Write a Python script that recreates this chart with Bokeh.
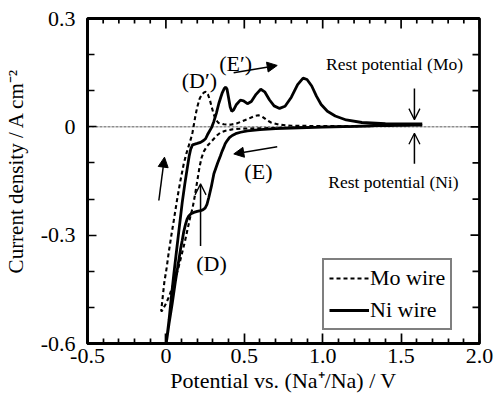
import math
from bokeh.plotting import figure
from bokeh.models import (Range1d, FixedTicker, Span, Arrow, NormalHead,
                          OpenHead, Label, Legend, LegendItem)
from bokeh.embed import file_html
from bokeh.resources import INLINE

FONT = "Liberation Serif"

# ---------------- data ----------------
# Ni wire: cathodic scan from rest potential, then anodic scan back
ni_v = [1.635, 1.40, 1.20, 1.00, 0.85, 0.70, 0.60, 0.52, 0.476, 0.445, 0.423, 0.405,
        0.391, 0.378, 0.369, 0.358, 0.348, 0.33, 0.306, 0.29, 0.274, 0.262, 0.25, 0.235,
        0.221, 0.20, 0.178, 0.16, 0.146, 0.135, 0.125, 0.114, 0.104, 0.093, 0.082, 0.06,
        0.04, 0.02, 0.002,
        0.02, 0.035, 0.05, 0.066, 0.085, 0.104, 0.12, 0.136, 0.148, 0.158, 0.17, 0.20,
        0.221, 0.24, 0.253, 0.265, 0.274, 0.29, 0.306, 0.322, 0.337, 0.35, 0.36, 0.372,
        0.382, 0.39, 0.40, 0.41, 0.42, 0.432, 0.45, 0.475, 0.495, 0.52, 0.545, 0.575,
        0.605, 0.63, 0.66, 0.69, 0.725, 0.76, 0.80, 0.84, 0.875, 0.90, 0.93, 0.96, 0.99,
        1.03, 1.08, 1.15, 1.25, 1.40, 1.635]
ni_i = [0.008, 0.004, 0.001, -0.001, -0.003, -0.005, -0.008, -0.011, -0.015, -0.019,
        -0.024, -0.030, -0.038, -0.047, -0.057, -0.068, -0.08, -0.10, -0.13, -0.165,
        -0.195, -0.215, -0.225, -0.23, -0.232, -0.234, -0.237, -0.241, -0.247, -0.256,
        -0.27, -0.29, -0.315, -0.34, -0.37, -0.43, -0.49, -0.545, -0.60,
        -0.535, -0.47, -0.41, -0.35, -0.28, -0.21, -0.16, -0.115, -0.082, -0.062, -0.05,
        -0.046, -0.043, -0.038, -0.033, -0.022, -0.015, -0.003, 0.015, 0.038, 0.064,
        0.082, 0.095, 0.106, 0.11, 0.104, 0.08, 0.055, 0.043, 0.047, 0.062, 0.074, 0.072,
        0.064, 0.07, 0.09, 0.104, 0.097, 0.075, 0.058, 0.051, 0.057, 0.082, 0.117, 0.135,
        0.131, 0.113, 0.085, 0.062, 0.043, 0.030, 0.019, 0.012, 0.009, 0.008]

# Mo wire: cathodic scan, then anodic scan back
mo_v = [1.635, 1.30, 1.00, 0.80, 0.60, 0.48, 0.423, 0.38, 0.348, 0.325, 0.306, 0.285,
        0.263, 0.242, 0.228, 0.215, 0.20, 0.185, 0.17, 0.155, 0.14, 0.12, 0.10, 0.08,
        0.06, 0.04, 0.02, 0.0, -0.025,
        -0.03, -0.02, -0.01, 0.005, 0.019, 0.035, 0.05, 0.072, 0.09, 0.114, 0.13, 0.146,
        0.16, 0.17, 0.178, 0.188, 0.20, 0.215, 0.23, 0.245, 0.256, 0.268, 0.28, 0.292,
        0.305, 0.318, 0.335, 0.37, 0.41, 0.45, 0.49, 0.53, 0.565, 0.59, 0.615, 0.64,
        0.67, 0.72, 0.80, 1.00, 1.30, 1.635]
mo_i = [0.004, 0.002, 0.0, -0.002, -0.004, -0.005, -0.007, -0.011, -0.016, -0.024,
        -0.033, -0.043, -0.053, -0.068, -0.085, -0.11, -0.15, -0.19, -0.225, -0.25,
        -0.28, -0.32, -0.355, -0.39, -0.42, -0.445, -0.47, -0.49, -0.51,
        -0.51, -0.47, -0.43, -0.39, -0.345, -0.30, -0.26, -0.20, -0.155, -0.102, -0.075,
        -0.052, -0.032, -0.015, 0.005, 0.03, 0.055, 0.078, 0.09, 0.096, 0.097, 0.09,
        0.075, 0.055, 0.035, 0.02, 0.011, 0.007, 0.006, 0.009, 0.016, 0.023, 0.03, 0.032,
        0.028, 0.02, 0.012, 0.006, 0.003, 0.002, 0.002, 0.004]

x_ticks = [-0.5, 0.0, 0.5, 1.0, 1.5, 2.0]
x_tick_labels = ["-0.5", "0", "0.5", "1.0", "1.5", "2.0"]
x_minor = [-0.4, -0.3, -0.2, -0.1, 0.1, 0.2, 0.3, 0.4, 0.6, 0.7, 0.8, 0.9,
           1.1, 1.2, 1.3, 1.4, 1.6, 1.7, 1.8, 1.9]
y_ticks = [-0.6, -0.3, 0.0, 0.3]
y_tick_labels = ["-0.6", "-0.3", "0", "0.3"]
y_minor = [-0.5, -0.4, -0.2, -0.1, 0.1, 0.2]

X_MIN, X_MAX = -0.5, 2.0
Y_MIN, Y_MAX = -0.6, 0.3

x_title = "Potential vs. (Na\u207a/Na) / V"
# leading no-break spaces nudge the centred title upwards as in the reference
y_title = "\u00a0\u00a0\u00a0\u00a0Current density / A cm\u207b\u00b2"

# annotations: text labels and arrows (data units)
lab_text = ["(D\u2032)", "(E\u2032)", "(E)", "(D)"]
lab_x = [0.214, 0.445, 0.59, 0.291]
lab_y = [0.128, 0.176, -0.124, -0.379]
rest_text = ["Rest potential (Mo)", "Rest potential (Ni)"]
rest_x = [1.458, 1.451]
rest_y = [0.1745, -0.152]
arr_x0 = [-0.045, 0.221, 0.71, 0.432, 1.585, 1.585]
arr_y0 = [-0.204, -0.33, -0.0554, 0.150, 0.106, -0.102]
arr_x1 = [-0.009, 0.221, 0.433, 0.71, 1.585, 1.585]
arr_y1 = [-0.084, -0.158, -0.075, 0.170, 0.020, -0.018]
arr_filled = [True, False, True, True, False, False]

# ---------------- figure ----------------
p = figure(width=494, height=399, output_backend="svg", toolbar_location=None,
           x_range=Range1d(X_MIN, X_MAX), y_range=Range1d(Y_MIN, Y_MAX),
           min_border_left=87, min_border_right=15, min_border_top=18,
           min_border_bottom=56, x_axis_label=x_title, y_axis_label=y_title)
p.outline_line_color = "black"
p.outline_line_width = 2.8
p.xgrid.visible = False
p.ygrid.visible = False
p.background_fill_color = "white"
p.border_fill_color = "white"


def style_axis(ax, ticks, minor, labels, maj_len, min_len, title_size):
    ax.ticker = FixedTicker(ticks=ticks, minor_ticks=minor)
    ax.axis_line_width = 2.8
    ax.axis_line_color = "black"
    ax.major_tick_in = maj_len
    ax.major_tick_out = 0
    ax.minor_tick_in = min_len
    ax.minor_tick_out = 0
    ax.major_tick_line_width = 1.7
    ax.minor_tick_line_width = 1.7
    ax.major_tick_line_color = "black"
    ax.minor_tick_line_color = "black"
    ax.major_label_text_font = FONT
    ax.major_label_text_color = "black"
    ax.major_label_text_font_size = "22px"
    ax.major_label_overrides = {t: l for t, l in zip(ticks, labels)}
    ax.axis_label_text_font = FONT
    ax.axis_label_text_font_size = title_size
    ax.axis_label_text_font_style = "normal"
    ax.axis_label_text_color = "black"


style_axis(p.xaxis[0], x_ticks, x_minor, x_tick_labels, 10, 5, "22px")
style_axis(p.yaxis[0], y_ticks, y_minor, y_tick_labels, 9, 7, "21px")
p.xaxis[0].major_label_standoff = 5
p.xaxis[0].axis_label_standoff = 2
p.yaxis[0].major_label_standoff = 12
p.yaxis[0].axis_label_standoff = 10

# inward ticks on top and right edges (dash markers clipped by the frame)
p.scatter([*x_ticks], [Y_MAX] * len(x_ticks), marker="dash", size=20, angle=math.pi / 2,
          line_color="black", line_width=1.7)
p.scatter([*x_minor], [Y_MAX] * len(x_minor), marker="dash", size=10, angle=math.pi / 2,
          line_color="black", line_width=1.7)
p.scatter([X_MAX] * len(y_ticks), [*y_ticks], marker="dash", size=18,
          line_color="black", line_width=1.7)
p.scatter([X_MAX] * len(y_minor), [*y_minor], marker="dash", size=14,
          line_color="black", line_width=1.7)

p.add_layout(Span(location=0, dimension="width", line_color="#444444",
                  line_width=0.9, line_dash="3 1", level="underlay"))

r_mo = p.line(mo_v, mo_i, line_color="black", line_width=2.1, line_dash="4 3")
r_ni = p.line(ni_v, ni_i, line_color="black", line_width=2.8)

for t, x, y in zip(lab_text, lab_x, lab_y):
    p.add_layout(Label(x=x, y=y, text=t, text_font=FONT, text_font_size="22px",
                       text_align="center", text_baseline="middle", text_color="black"))
for t, x, y in zip(rest_text, rest_x, rest_y):
    p.add_layout(Label(x=x, y=y, text=t, text_font=FONT, text_font_size="17.5px",
                       text_align="center", text_baseline="middle", text_color="black"))

for x0, y0, x1, y1, filled in zip(arr_x0, arr_y0, arr_x1, arr_y1, arr_filled):
    if filled:
        head = NormalHead(size=10, fill_color="black", line_color="black", line_width=1)
    else:
        head = OpenHead(size=11, line_color="black", line_width=1.3)
    p.add_layout(Arrow(end=head, x_start=x0, y_start=y0, x_end=x1, y_end=y1,
                       line_color="black", line_width=1.5))

legend = Legend(items=[LegendItem(label="Mo wire", renderers=[r_mo]),
                       LegendItem(label="Ni wire", renderers=[r_ni])],
                location=(235, 13))
legend.border_line_color = "black"
legend.border_line_width = 2.4
legend.background_fill_color = "white"
legend.background_fill_alpha = 1.0
legend.label_text_font = FONT
legend.label_text_font_size = "22px"
legend.label_text_color = "black"
legend.glyph_width = 40
legend.glyph_height = 22
legend.label_height = 22
legend.label_standoff = 1
legend.padding = 5
legend.spacing = 6
legend.margin = 0
p.add_layout(legend)

open("out.html", "w").write(file_html(p, INLINE))
